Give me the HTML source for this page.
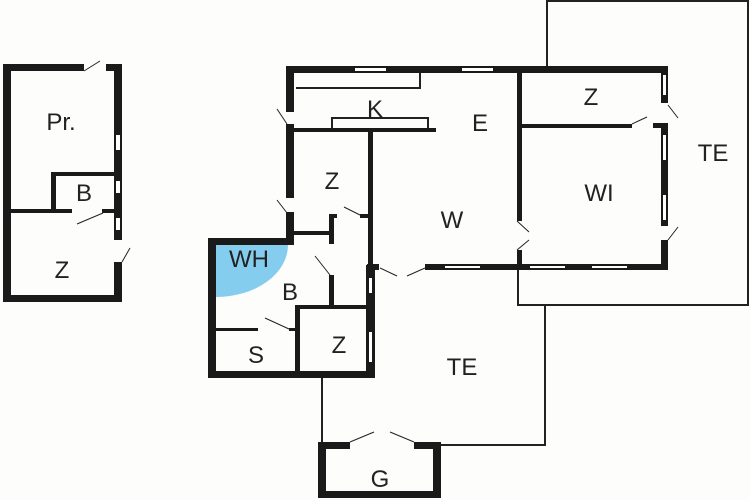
<!DOCTYPE html>
<html><head><style>body{margin:0;background:#fdfdfc}svg{display:block}text{font-family:"Liberation Sans",sans-serif;fill:#222}</style></head><body>
<svg width="750" height="500" viewBox="0 0 750 500">
<rect width="750" height="500" fill="#fdfdfc"/>
<g fill="none" stroke="#222" stroke-width="2">
<polyline points="547,66 547,1 748,1 748,305 518,305 518,268"/>
<polyline points="322,376 322,443"/>
<polyline points="441,445 545,445 545,305"/>
<polyline points="296,88 420,88 420,73"/>
<rect x="332" y="118" width="96" height="12"/>
</g>
<g fill="#1a1a1a">
<rect x="3" y="64" width="8" height="238"/>
<rect x="3" y="64" width="81" height="7"/>
<rect x="106" y="64" width="16" height="7"/>
<rect x="114" y="64" width="8" height="176"/>
<rect x="114" y="262" width="8" height="40"/>
<rect x="3" y="295" width="119" height="7"/>
<rect x="52" y="172" width="62" height="4"/>
<rect x="51" y="172" width="5" height="40"/>
<rect x="10" y="209" width="62" height="4"/>
<rect x="102" y="209" width="12" height="4"/>
</g>
<g fill="#fff"><rect x="116" y="135" width="4" height="15"/><rect x="116" y="181" width="4" height="12"/><rect x="116" y="218" width="4" height="12"/></g>
<g fill="#1a1a1a">
<rect x="286" y="66" width="382" height="7"/>
<rect x="286" y="66" width="8" height="46"/>
<rect x="286" y="124" width="8" height="74"/>
<rect x="286" y="212" width="8" height="33"/>
<rect x="294" y="128" width="142" height="4"/>
<rect x="368" y="130" width="5" height="140"/>
<rect x="208" y="238" width="86" height="7"/>
<rect x="208" y="238" width="8" height="140"/>
<rect x="208" y="371" width="167" height="7"/>
<rect x="366" y="265" width="9" height="113"/>
<rect x="294" y="231" width="36" height="4"/>
<rect x="329" y="214" width="5" height="30"/>
<rect x="329" y="214" width="8" height="4"/>
<rect x="360" y="214" width="10" height="4"/>
<rect x="329" y="275" width="5" height="32"/>
<rect x="296" y="305" width="75" height="4"/>
<rect x="295" y="305" width="5" height="70"/>
<rect x="216" y="328" width="42" height="3"/>
<rect x="289" y="328" width="8" height="3"/>
<rect x="367" y="264" width="12" height="6"/>
<rect x="425" y="264" width="243" height="6"/>
<rect x="517" y="73" width="5" height="148"/>
<rect x="517" y="250" width="5" height="18"/>
<rect x="522" y="124" width="110" height="4"/>
<rect x="653" y="123" width="15" height="5"/>
<rect x="661" y="66" width="7" height="37"/>
<rect x="661" y="123" width="7" height="103"/>
<rect x="661" y="240" width="7" height="30"/>
<rect x="318" y="442" width="32" height="7"/>
<rect x="414" y="442" width="27" height="7"/>
<rect x="318" y="442" width="8" height="56"/>
<rect x="433" y="442" width="8" height="56"/>
<rect x="318" y="491" width="123" height="7"/>
</g>
<g fill="#fff">
<rect x="355" y="68" width="31" height="3"/><rect x="462" y="68" width="31" height="3"/>
<rect x="445" y="266" width="35" height="2"/><rect x="530" y="266" width="35" height="2"/><rect x="592" y="266" width="35" height="2"/>
<rect x="663" y="75" width="3" height="20"/><rect x="663" y="135" width="3" height="25"/><rect x="663" y="195" width="3" height="25"/>
<rect x="369" y="278" width="3" height="15"/><rect x="369" y="332" width="3" height="30"/>
</g>
<path d="M216,245 H288 A72,52 0 0 1 216,297 Z" fill="#85cdee"/>
<g stroke="#222" stroke-width="1" fill="none">
<line x1="84" y1="71" x2="100" y2="61"/><line x1="77" y1="224" x2="103" y2="213"/>
<line x1="122" y1="262" x2="130" y2="248"/>
<line x1="277" y1="109" x2="287" y2="124"/><line x1="277" y1="200" x2="287" y2="213"/>
<line x1="344" y1="207" x2="360" y2="215"/><line x1="315" y1="256" x2="330" y2="275"/>
<line x1="265" y1="318" x2="289" y2="329"/>
<line x1="380" y1="268" x2="397" y2="276"/><line x1="407" y1="276" x2="425" y2="268"/>
<line x1="517" y1="221" x2="529" y2="232"/><line x1="517" y1="250" x2="529" y2="240"/>
<line x1="632" y1="124" x2="647" y2="117"/><line x1="668" y1="105" x2="678" y2="118"/><line x1="668" y1="240" x2="678" y2="227"/>
<line x1="350" y1="442" x2="374" y2="432"/><line x1="414" y1="442" x2="390" y2="432"/>
</g>
<g font-size="24" text-anchor="middle">
<text x="61" y="130">Pr.</text><text x="84" y="201">B</text><text x="62" y="278">Z</text>
<text x="375" y="117">K</text><text x="480" y="131">E</text><text x="591" y="105">Z</text>
<text x="332" y="189">Z</text><text x="452" y="228">W</text><text x="599" y="201">WI</text>
<text x="713" y="161">TE</text><text x="249" y="267">WH</text><text x="290" y="300">B</text>
<text x="256" y="363">S</text><text x="339" y="353">Z</text><text x="462" y="375">TE</text><text x="380" y="487">G</text>
</g>
</svg>
</body></html>
